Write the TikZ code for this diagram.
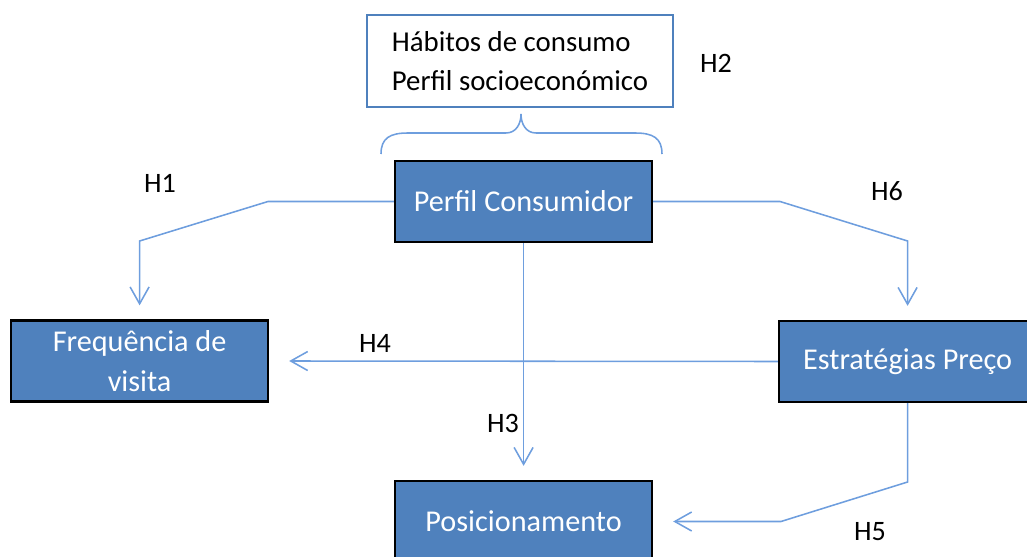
\documentclass[tikz,border=0pt]{standalone}
\usepackage{fontspec}
\setmainfont{Carlito}
\usetikzlibrary{arrows.meta}
\definecolor{boxblue}{RGB}{79,129,189}
\definecolor{linkblue}{RGB}{110,158,222}

\tikzset{
  factor/.style={draw=black, line width=1.6pt, fill=boxblue, text=white,
    minimum width=6.425cm, minimum height=2.025cm, inner sep=0pt,
    align=center, font=\fontsize{21.5}{28.4}\selectfont},
  listbox/.style={draw=boxblue, line width=0.8pt, minimum width=7.65cm,
    minimum height=2.3cm, align=left,
    font=\fontsize{20.5}{27.7}\selectfont},
  hyp/.style={font=\fontsize{20}{24}\selectfont},
  link/.style={draw=linkblue, line width=1.1pt,
    -{Straight Barb[length=12pt,width=13.5pt]}},
}

\begin{document}
\begin{tikzpicture}
            \useasboundingbox (0,0) rectangle (25.675000,13.900000);
            
            % Drawing box of characteristics
            \node [listbox] (habitos) at (13.000000,12.375000)
              {Hábitos de consumo\\Perfil socioeconómico};
            
            % Drawing brace under the box
            \draw [linkblue, line width=1.1pt] (9.525000,10.050000)
              .. controls (9.525000,10.450000) and (9.750000,10.575000) .. (10.200000,10.575000)
              -- (12.650000,10.575000)
              .. controls (12.900000,10.575000) and (13.025000,10.800000) .. (13.025000,11.050000)
              .. controls (13.025000,10.800000) and (13.150000,10.575000) .. (13.400000,10.575000)
              -- (15.875000,10.575000)
              .. controls (16.325000,10.575000) and (16.550000,10.450000) .. (16.550000,10.050000);
            
            % Drawing factor boxes
            \node [factor] (perfil) at (13.090000,8.862500) {Perfil Consumidor};
            \node [factor] (frequencia) at (3.490000,4.875000) {Frequência de\\visita};
            \node [factor] (estrategias) at (22.690000,4.862500) {Estratégias Preço};
            \node [factor] (posicionamento) at (13.090000,0.862500) {Posicionamento};
            
            % Bends of the links
            \coordinate (h1a) at (6.700000,8.862500);
            \coordinate (h1b) at (3.490000,7.875000);
            \coordinate (h6a) at (19.500000,8.862500);
            \coordinate (h6b) at (22.690000,7.875000);
            \coordinate (h5a) at (22.690000,1.850000);
            \coordinate (h5b) at (19.525000,0.862500);
            
            % Drawing links H1 to H6
            \draw [link] (perfil.west) -- (h1a) -- (h1b) -- ([yshift=0.35cm]frequencia.north);
            \draw [link] (perfil.east) -- (h6a) -- (h6b) -- ([yshift=0.35cm]estrategias.north);
            \draw [link] (perfil.south) -- ([yshift=0.35cm]posicionamento.north);
            \draw [link] (estrategias.west) -- ([xshift=0.5cm]frequencia.east);
            \draw [link] (estrategias.south) -- (h5a) -- (h5b) -- ([xshift=0.5cm]posicionamento.east);
            
            % Marking hypotheses
            \node [hyp] (h1) at (4.000000,9.325000) {H1};
            \node [hyp] (h2) at (17.900000,12.325000) {H2};
            \node [hyp] (h3) at (12.575000,3.325000) {H3};
            \node [hyp] (h4) at (9.375000,5.325000) {H4};
            \node [hyp] (h5) at (21.750000,0.600000) {H5};
            \node [hyp] (h6) at (22.175000,9.125000) {H6};
        \end{tikzpicture}
\end{document}
